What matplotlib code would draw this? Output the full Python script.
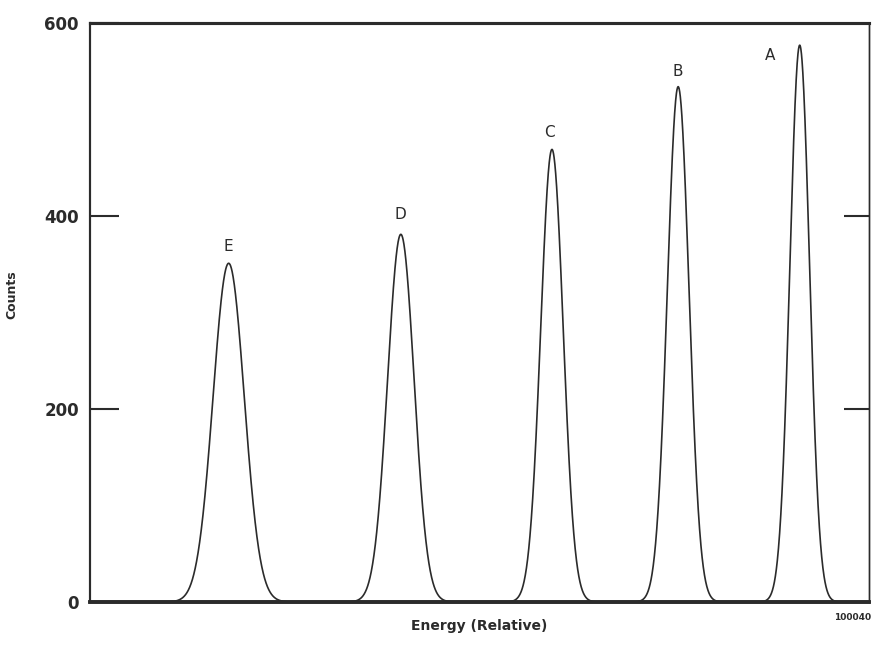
import numpy as np
import matplotlib
matplotlib.use("Agg")
import matplotlib.pyplot as plt

# peak parameters (energy in relative units 0..100)
peak_labels = ["E", "D", "C", "B", "A"]
peak_centers = [17.8, 39.9, 59.3, 75.5, 91.1]
peak_heights = [351, 381, 469, 534, 577]
peak_sigmas = [2.0, 1.7, 1.44, 1.39, 1.26]
label_x = [17.8, 39.8, 59.0, 75.5, 87.3]
label_y = [368, 402, 486, 550, 566]

y_ticks = [0, 200, 400, 600]

ink = "#2b2b2b"

fig = plt.figure(figsize=(8.72, 6.49), dpi=100)
ax = fig.add_axes([0.1032, 0.0724, 0.8934, 0.8922])

energy = np.linspace(0, 100, 4001)
counts = np.zeros_like(energy)
for c, h, s in zip(peak_centers, peak_heights, peak_sigmas):
    counts += h * np.exp(-0.5 * ((energy - c) / s) ** 2)
ax.plot(energy, counts, color=ink, lw=1.2)

for lab, lx, ly in zip(peak_labels, label_x, label_y):
    ax.text(lx, ly, lab, ha="center", va="center", fontsize=11, color=ink)

ax.set_xlim(0, 100)
ax.set_ylim(0, 600)
ax.set_xticks([])
ax.set_yticks(y_ticks)
ax.set_yticklabels([str(v) for v in y_ticks], fontsize=12, fontweight="bold", color=ink)
ax.tick_params(axis="y", direction="in", length=21, width=1.5, color=ink, pad=8)

# right-hand ticks drawn on a twin axis
ax2 = ax.twinx()
ax2.set_ylim(0, 600)
ax2.set_yticks([200, 400])
ax2.set_yticklabels([])
ax2.tick_params(axis="y", direction="in", length=18, width=1.5, color=ink)
ax2.set_xticks([])

for a in (ax, ax2):
    a.spines["top"].set_linewidth(2.2)
    a.spines["bottom"].set_linewidth(2.6)
    a.spines["left"].set_linewidth(1.5)
    a.spines["right"].set_linewidth(1.0)
    for sp in a.spines.values():
        sp.set_color(ink)

ax.set_ylabel("Counts", fontsize=9, fontweight="bold", color=ink)
ax.yaxis.set_label_coords(-0.092, 0.53)
ax.set_xlabel("Energy (Relative)", fontsize=10, fontweight="bold", color=ink, labelpad=12)
fig.text(0.999, 0.048, "100040", ha="right", va="center", fontsize=6.5,
         fontweight="bold", color=ink)

fig.savefig("out.png", dpi=100, facecolor="white")
